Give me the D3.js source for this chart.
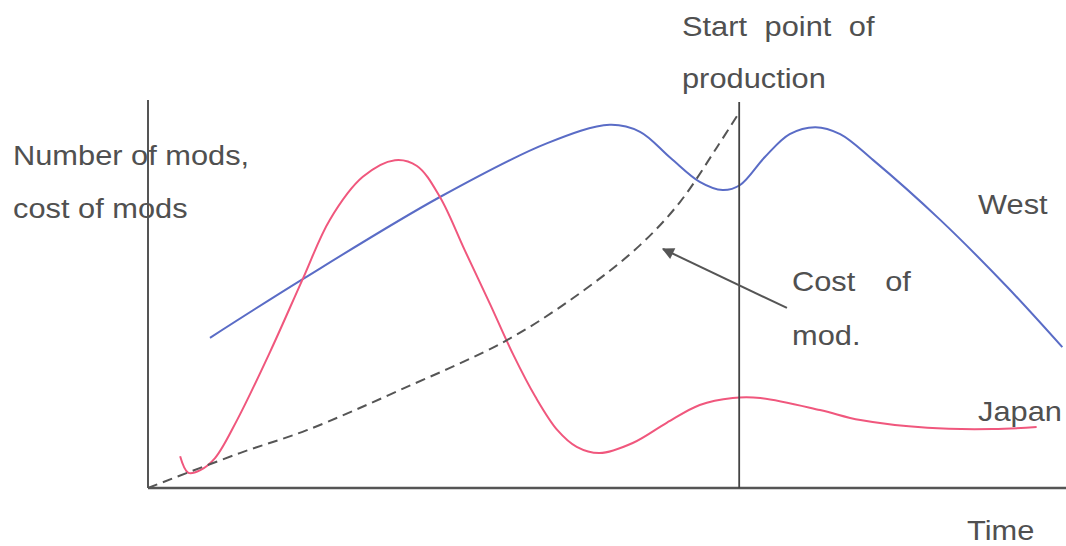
<!DOCTYPE html>
<html>
<head>
<meta charset="utf-8">
<script src="https://cdn.jsdelivr.net/npm/d3@7"></script>
<style>
  body { margin: 0; background: #fff; }
  text { font-family: "Liberation Sans", Arial, sans-serif; fill: #505050; }
</style>
</head>
<body>
<script>
"use strict";

// time (0-100) vs level (0-100)
const westT   = [6.75, 16.9, 31.8, 43.5, 50.3, 53.6, 56.9, 60.1, 62.6, 64.5, 67.2, 69.9, 72.7, 75.4, 79.0, 86.3, 93.6, 99.6];
const westV   = [38.7, 53.9, 75.0, 88.9, 93.6, 91.8, 85.1, 78.9, 76.8, 78.1, 85.3, 91.2, 93.0, 91.2, 84.5, 69.1, 51.8, 36.3];

const japanT  = [3.5, 4.4, 5.7, 7.3, 9.7, 13.3, 16.9, 19.8, 23.4, 26.9, 29.3, 31.8, 34.5, 37.3, 39.8, 42.2, 44.6, 46.7, 49.2, 52.8, 56.5, 60.1, 63.7, 66.7, 73.2, 77.6, 84.9, 92.0, 96.8];
const japanV  = [8.2, 3.9, 4.6, 7.7, 17.5, 35.1, 54.1, 69.1, 80.2, 84.5, 83.0, 75.0, 61.3, 47.2, 34.3, 23.5, 14.9, 10.6, 9.0, 11.6, 16.8, 21.4, 23.2, 23.2, 20.1, 17.5, 15.5, 15.2, 15.7];

const costT   = [0, 10.0, 17.3, 27.5, 39.1, 47.1, 53.6, 57.95, 62.0, 64.3];
const costV   = [0, 9.0, 14.9, 25.3, 38.1, 50.3, 62.6, 73.7, 87.9, 96.4];

const productionT = 64.4;
const arrowFrom = [69.6, 46.4];
const arrowTo   = [56.1, 61.6];

const labels = [
  { text: "Number of mods,", x: 13,  y: 165, ws: 0 },
  { text: "cost of mods",    x: 13,  y: 218, ws: 0 },
  { text: "Start point of",  x: 682, y: 36,  ws: 8 },
  { text: "production",      x: 682, y: 88,  ws: 0 },
  { text: "West",            x: 978, y: 214, ws: 0 },
  { text: "Cost of",         x: 792, y: 291, ws: 19 },
  { text: "mod.",            x: 792, y: 345, ws: 0 },
  { text: "Japan",           x: 978, y: 421, ws: 0 },
  { text: "Time",            x: 967, y: 540, ws: 0 }
];

const width = 1066;
const height = 546;

let x = d3.scaleLinear().domain([0, 100]).range([148, 1066]);
let y = d3.scaleLinear().domain([0, 100]).range([488, 100]);

let svg = d3.select("body").append("svg")
    .attr("width", width)
    .attr("height", height);

svg.append("defs").append("marker")
    .attr("id", "head")
    .attr("viewBox", "0 0 10 10")
    .attr("refX", 9).attr("refY", 5)
    .attr("markerWidth", 8).attr("markerHeight", 6)
    .attr("markerUnits", "strokeWidth")
    .attr("orient", "auto")
  .append("path")
    .attr("d", "M0,0 L10,5 L0,10 z")
    .attr("fill", "#555");

// labels first, the axis line runs over them
svg.selectAll("text.lbl")
    .data(labels)
    .enter().append("text")
    .attr("class", "lbl")
    .attr("transform", d => `translate(${d.x},${d.y}) scale(1.12,1)`)
    .style("font-size", "27.5px")
    .style("word-spacing", d => d.ws + "px")
    .text(d => d.text);

let line = d3.line()
    .x(d => x(d[0]))
    .y(d => y(d[1]))
    .curve(d3.curveCatmullRom.alpha(0.5));

const zip = (a, b) => a.map((v, i) => [v, b[i]]);

svg.append("path")
    .attr("d", line(zip(westT, westV)))
    .attr("fill", "none")
    .attr("stroke", "#5a6cc6")
    .attr("stroke-width", 2);

svg.append("path")
    .attr("d", line(zip(japanT, japanV)))
    .attr("fill", "none")
    .attr("stroke", "#f0577d")
    .attr("stroke-width", 2);

svg.append("path")
    .attr("d", line(zip(costT, costV)))
    .attr("fill", "none")
    .attr("stroke", "#555")
    .attr("stroke-width", 2)
    .attr("stroke-dasharray", "10,6");

// axes
svg.append("line")
    .attr("x1", x(0)).attr("x2", x(0))
    .attr("y1", y(0)).attr("y2", y(100))
    .attr("stroke", "#555").attr("stroke-width", 2);

svg.append("line")
    .attr("x1", x(0)).attr("x2", x(100))
    .attr("y1", y(0)).attr("y2", y(0))
    .attr("stroke", "#555").attr("stroke-width", 2.5);

svg.append("line")
    .attr("x1", x(productionT)).attr("x2", x(productionT))
    .attr("y1", y(0)).attr("y2", y(99.5))
    .attr("stroke", "#444").attr("stroke-width", 1.8);

svg.append("line")
    .attr("x1", x(arrowFrom[0])).attr("y1", y(arrowFrom[1]))
    .attr("x2", x(arrowTo[0])).attr("y2", y(arrowTo[1]))
    .attr("stroke", "#555").attr("stroke-width", 2)
    .attr("marker-end", "url(#head)");

</script>
</body>
</html>
